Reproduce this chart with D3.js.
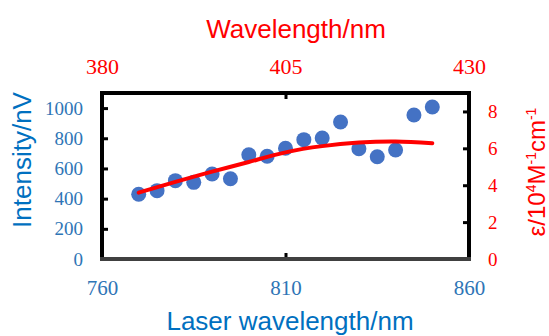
<!DOCTYPE html>
<html>
<head>
<meta charset="utf-8">
<script src="https://cdn.jsdelivr.net/npm/d3@7"></script>
<style>
  body { margin: 0; background: #fff; }
  svg { display: block; }
</style>
</head>
<body>
<script>
// laser scan (bottom / left axes)
const laser_nm = [770, 775, 780, 785, 790, 795, 800, 805, 810, 815, 820, 825, 830, 835, 840, 845, 850]
const intensity = [429, 453, 519, 508, 563, 532, 691, 681, 734, 791, 802, 908, 731, 678, 722, 954, 1007]

// absorption (top / right axes)
const abs_nm = [385, 390, 395, 400, 405, 410, 415, 420, 425]
const epsilon = [3.60, 4.18, 4.74, 5.26, 5.78, 6.12, 6.31, 6.37, 6.28]

const laser_ticks = [760, 810, 860]
const wl_ticks = [380, 405, 430]
const int_ticks = [0, 200, 400, 600, 800, 1000]
const eps_ticks = [0, 2, 4, 6, 8]

const width = 549
const height = 336
const margin = {top: 93, right: 80, bottom: 77, left: 102}

const blue = '#2E75B6'
const blue_title = '#0070C0'
const red = '#FF0000'
const serif = '"Liberation Serif", "Times New Roman", serif'
const sans = '"Liberation Sans", Arial, sans-serif'

const svg = d3.select('body').append('svg')
  .attr('width', width)
  .attr('height', height)

const x = d3.scaleLinear().domain([760, 860]).range([margin.left, width - margin.right])
const x_top = d3.scaleLinear().domain([380, 430]).range([margin.left, width - margin.right])
const y = d3.scaleLinear().domain([0, 1100]).range([height - margin.bottom, margin.top])
const y_right = d3.scaleLinear().domain([0, 9]).range([height - margin.bottom, margin.top])

function style_axis(g, color, size) {
  g.select('.domain').remove()
  g.selectAll('.tick line').attr('stroke', '#000').attr('stroke-width', 3)
  g.selectAll('.tick text')
    .attr('fill', color)
    .attr('font-family', serif)
    .attr('font-size', size)
}

svg.append('g')
  .attr('transform', `translate(${margin.left},0)`)
  .call(d3.axisLeft(y).tickValues(int_ticks).tickFormat(d3.format('d')).tickSize(-6).tickPadding(19))
  .call(g => style_axis(g, blue, 19))

svg.append('g')
  .attr('transform', `translate(${width - margin.right},0)`)
  .call(d3.axisRight(y_right).tickValues(eps_ticks).tickSize(-6).tickPadding(19))
  .call(g => style_axis(g, red, 19))

svg.append('g')
  .attr('transform', `translate(0,${height - margin.bottom})`)
  .call(d3.axisBottom(x).tickValues(laser_ticks).tickSize(-6).tickPadding(21))
  .call(g => style_axis(g, blue, 21))

svg.append('g')
  .attr('transform', `translate(0,${margin.top})`)
  .call(d3.axisTop(x_top).tickValues(wl_ticks).tickSize(-6).tickPadding(19.5))
  .call(g => style_axis(g, red, 22))

// points
svg.append('g')
  .selectAll('circle')
  .data(laser_nm)
  .join('circle')
    .attr('cx', d => x(d))
    .attr('cy', (d, i) => y(intensity[i]))
    .attr('r', 7.5)
    .attr('fill', '#4472C4')

// absorption curve
const line = d3.line()
  .x(d => x_top(d))
  .y((d, i) => y_right(epsilon[i]))
  .curve(d3.curveNatural)

svg.append('path')
  .datum(abs_nm)
  .attr('d', line)
  .attr('fill', 'none')
  .attr('stroke', red)
  .attr('stroke-width', 4)
  .attr('stroke-linecap', 'round')

// frame
const x0 = margin.left, x1 = width - margin.right
const y0 = margin.top, y1 = height - margin.bottom
svg.append('path')
  .attr('d', `M${x0},${y1} L${x0},${y0} L${x1},${y0} L${x1},${y1}`)
  .attr('fill', 'none')
  .attr('stroke', '#000')
  .attr('stroke-width', 4)
svg.append('line')
  .attr('x1', x0 - 2).attr('x2', x1 + 2)
  .attr('y1', y1).attr('y2', y1)
  .attr('stroke', '#404040')
  .attr('stroke-width', 4)

// titles
svg.append('text')
  .attr('x', 296).attr('y', 38)
  .attr('text-anchor', 'middle')
  .attr('font-family', sans).attr('font-size', 26)
  .attr('fill', red)
  .text('Wavelength/nm')

svg.append('text')
  .attr('x', 290).attr('y', 330)
  .attr('text-anchor', 'middle')
  .attr('font-family', sans).attr('font-size', 26)
  .attr('fill', blue_title)
  .text('Laser wavelength/nm')

svg.append('text')
  .attr('transform', 'translate(31,160) rotate(-90)')
  .attr('text-anchor', 'middle')
  .attr('font-family', sans).attr('font-size', 26)
  .attr('fill', blue_title)
  .text('Intensity/nV')

const eps_title = svg.append('text')
  .attr('transform', 'translate(545,172) rotate(-90)')
  .attr('text-anchor', 'middle')
  .attr('font-family', sans).attr('font-size', 24)
  .attr('fill', red)

const parts = [['ε/10', false], ['4', true], ['M', false], ['-1', true], ['cm', false], ['-1', true]]
parts.forEach(([t, sup], i) => {
  const prev_sup = i > 0 && parts[i - 1][1]
  const s = eps_title.append('tspan').text(t)
  if (sup) s.attr('font-size', 14)
  if (sup && !prev_sup) s.attr('dy', -9)
  else if (!sup && prev_sup) s.attr('dy', 9)
})
</script>
</body>
</html>
